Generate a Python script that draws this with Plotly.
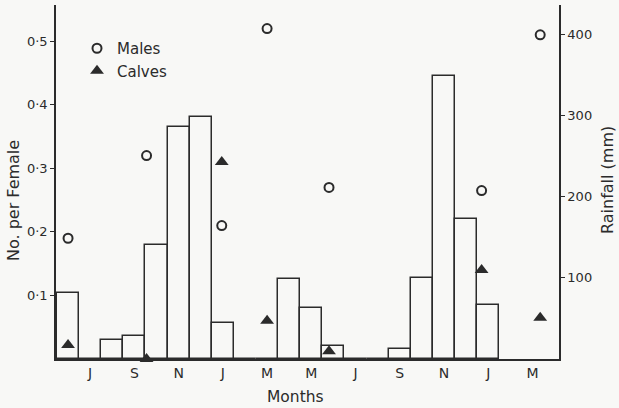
import plotly.graph_objects as go

# ---- data ----
months = ["Jun", "Jul", "Aug", "Sep", "Oct", "Nov", "Dec", "Jan", "Feb", "Mar", "Apr", "May",
          "Jun", "Jul", "Aug", "Sep", "Oct", "Nov", "Dec", "Jan", "Feb", "Mar", "Apr"]
rainfall_mm = [81, 0, 23, 28, 141, 286, 298, 44, 0, 0, 98, 63,
               16, 0, 0, 12, 100, 349, 173, 67, None, None, None]

sample_month = [0.0, 3.55, 6.95, 9.0, 11.8, 18.7, 21.35]   # month index of each sample
males_per_female = [0.19, 0.32, 0.21, 0.52, 0.27, 0.265, 0.51]
calves_per_female = [0.022, 0.0, 0.31, 0.06, 0.012, 0.14, 0.065]

left_ticks = [0.1, 0.2, 0.3, 0.4, 0.5]
left_ticktext = ["0·1", "0·2", "0·3", "0·4", "0·5"]
right_ticks = [100, 200, 300, 400]

INK = "#2b2b2b"
BG = "#f8f8f6"
FONT = "DejaVu Sans"

month_idx = list(range(len(months)))
tick_idx = [i for i in month_idx if i % 2 == 1]
tick_txt = [months[i][0] for i in tick_idx]

fig = go.Figure()

fig.add_trace(go.Bar(
    x=month_idx, y=rainfall_mm, yaxis="y2", width=1.0,
    marker=dict(color="rgba(0,0,0,0)", line=dict(color=INK, width=1.5)),
    showlegend=False, name="Rainfall",
))

fig.add_trace(go.Scatter(
    x=sample_month, y=males_per_female, mode="markers", name="Males",
    marker=dict(symbol="circle-open", size=9, color=INK, line=dict(width=2, color=INK)),
    cliponaxis=False,
))
fig.add_trace(go.Scatter(
    x=sample_month, y=calves_per_female, mode="markers", name="Calves",
    marker=dict(symbol="triangle-up", size=12, color=INK, line=dict(width=0)),
    cliponaxis=False,
))

fig.update_layout(
    width=619, height=408,
    margin=dict(l=56, r=60, t=5, b=49),
    paper_bgcolor=BG, plot_bgcolor=BG,
    font=dict(family=FONT, size=14, color=INK),
    bargap=0,
    showlegend=True,
    legend=dict(x=(77 - 56) / 503, y=1 - (32 - 5) / 354, xanchor="left", yanchor="top",
                bgcolor="rgba(0,0,0,0)", font=dict(size=15, color=INK),
                itemwidth=30, tracegroupgap=0),
    xaxis=dict(range=[-0.545, 22.2], tickvals=tick_idx, ticktext=tick_txt,
               showline=True, linecolor=INK, linewidth=1.5, ticks="",
               showgrid=False, zeroline=False, tickfont=dict(size=14)),
    yaxis=dict(range=[0, 0.557], tickvals=left_ticks, ticktext=left_ticktext,
               showline=True, linecolor=INK, linewidth=1.5, ticks="outside",
               ticklen=4, tickwidth=1.2, tickcolor=INK,
               showgrid=False, zeroline=False, tickfont=dict(size=13)),
    yaxis2=dict(range=[0, 436], tickvals=right_ticks, overlaying="y", side="right",
                showline=True, linecolor=INK, linewidth=1.5, ticks="outside",
                ticklen=4, tickwidth=1.2, tickcolor=INK,
                showgrid=False, zeroline=False, tickfont=dict(size=13)),
    annotations=[
        dict(text="No. per Female", xref="paper", yref="paper", x=(13 - 56) / 503, y=1 - (201 - 5) / 354,
             showarrow=False, textangle=-90, xanchor="center", yanchor="middle", font=dict(size=16)),
        dict(text="Rainfall (mm)", xref="paper", yref="paper", x=(608 - 56) / 503, y=1 - (180 - 5) / 354,
             showarrow=False, textangle=-90, xanchor="center", yanchor="middle", font=dict(size=16)),
        dict(text="Months", xref="paper", yref="paper", x=(295 - 56) / 503, y=1 - (397 - 5) / 354,
             showarrow=False, xanchor="center", yanchor="middle", font=dict(size=15.5)),
    ],
)

fig.write_html("out.html")
